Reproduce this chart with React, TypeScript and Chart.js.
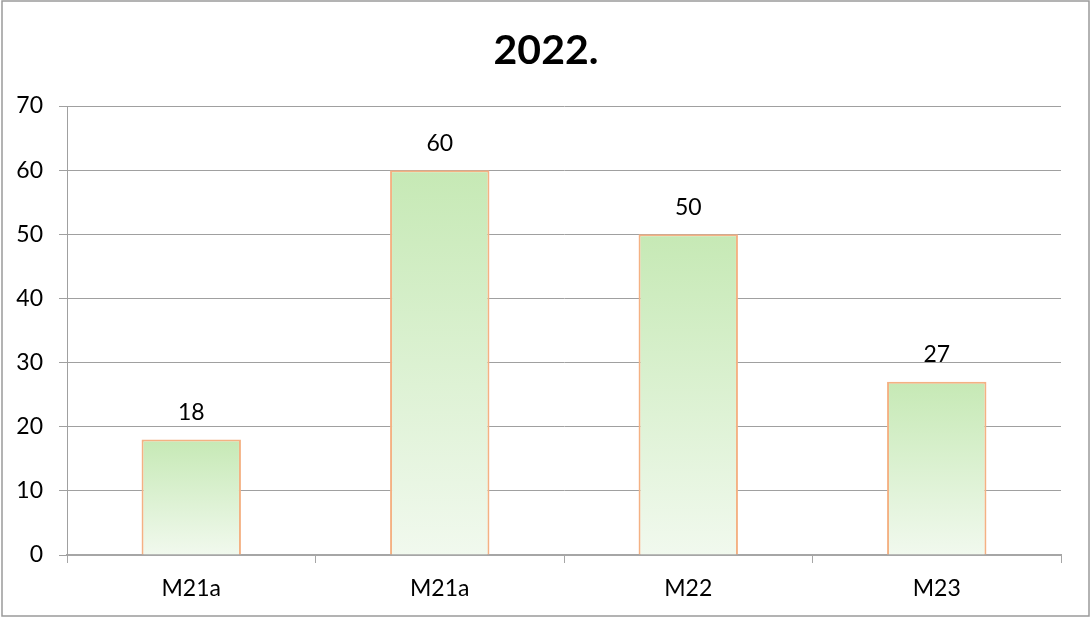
import React, { useEffect, useRef } from "react";
import { Chart, registerables } from "chart.js";

Chart.register(...registerables);

const categories = ["M21a", "M21a", "M22", "M23"];
const values = [18, 60, 50, 27];
const titleText = "2022.";
const yMin = 0;
const yMax = 70;
const yStep = 10;

const FONT = "Lato, 'Open Sans', sans-serif";

export default function App() {
  const ref = useRef<HTMLCanvasElement | null>(null);

  useEffect(() => {
    const canvas = ref.current;
    if (!canvas) return;
    document.body.style.margin = "0";

    const framePlugin = {
      id: "frame",
      beforeDraw(chart: any) {
        const { ctx, width, height } = chart;
        ctx.save();
        ctx.fillStyle = "#ffffff";
        ctx.fillRect(0, 0, width, height);
        ctx.strokeStyle = "#9a9a9a";
        ctx.lineWidth = 1.5;
        ctx.strokeRect(2, 1, width - 3, height - 2);
        ctx.restore();
      },
      afterDraw(chart: any) {
        const { ctx, width } = chart;
        ctx.save();
        ctx.fillStyle = "#000000";
        ctx.font = `bold 41px ${FONT}`;
        ctx.textAlign = "center";
        ctx.textBaseline = "middle";
        ctx.fillText(titleText, width / 2 + 1, 51);
        // data labels
        const meta = chart.getDatasetMeta(0);
        ctx.font = `23px ${FONT}`;
        ctx.textBaseline = "middle";
        meta.data.forEach((bar: any, i: number) => {
          ctx.fillText(String(values[i]), bar.x, bar.y - 27);
        });
        ctx.restore();
      },
    };

    const chart = new Chart(canvas, {
      type: "bar",
      data: {
        labels: categories,
        datasets: [
          {
            data: values,
            backgroundColor: (c: any) => {
              const ch = c.chart;
              if (!ch.chartArea || c.raw === undefined) return "#d6efcb";
              const y = ch.scales.y;
              const top = y.getPixelForValue(c.raw);
              const bottom = y.getPixelForValue(0);
              const g = ch.ctx.createLinearGradient(0, top, 0, bottom);
              g.addColorStop(0, "#c6e9b5");
              g.addColorStop(1, "#f1f9ee");
              return g;
            },
            borderColor: "#f4b183",
            borderWidth: 2,
            barPercentage: 0.4,
            categoryPercentage: 1,
          },
        ],
      },
      options: {
        responsive: false,
        animation: false,
        layout: { padding: { left: 0, right: 29, top: 106, bottom: 0 } },
        plugins: {
          legend: { display: false },
          tooltip: { enabled: false },
          title: { display: false },
        },
        scales: {
          x: {
            afterFit: (s: any) => {
              s.height = 62;
            },
            grid: {
              display: true,
              drawOnChartArea: false,
              drawTicks: true,
              tickLength: 8,
              color: "#a6a6a6",
              offset: true,
            },
            border: { display: true, color: "#a6a6a6", width: 2 },
            ticks: {
              color: "#000000",
              font: { family: FONT, size: 23 },
              padding: 12,
            },
          },
          y: {
            min: yMin,
            max: yMax,
            afterFit: (s: any) => {
              s.width = 67;
            },
            grid: {
              color: "#a0a0a0",
              tickLength: 8,
              drawTicks: true,
            },
            border: { display: true, color: "#a0a0a0" },
            ticks: {
              stepSize: yStep,
              color: "#000000",
              font: { family: FONT, size: 23 },
              padding: 16,
            },
          },
        },
      },
      plugins: [framePlugin],
    } as any);

    return () => chart.destroy();
  }, []);

  return <canvas ref={ref} width={1090} height={617} style={{ display: "block" }} />;
}
